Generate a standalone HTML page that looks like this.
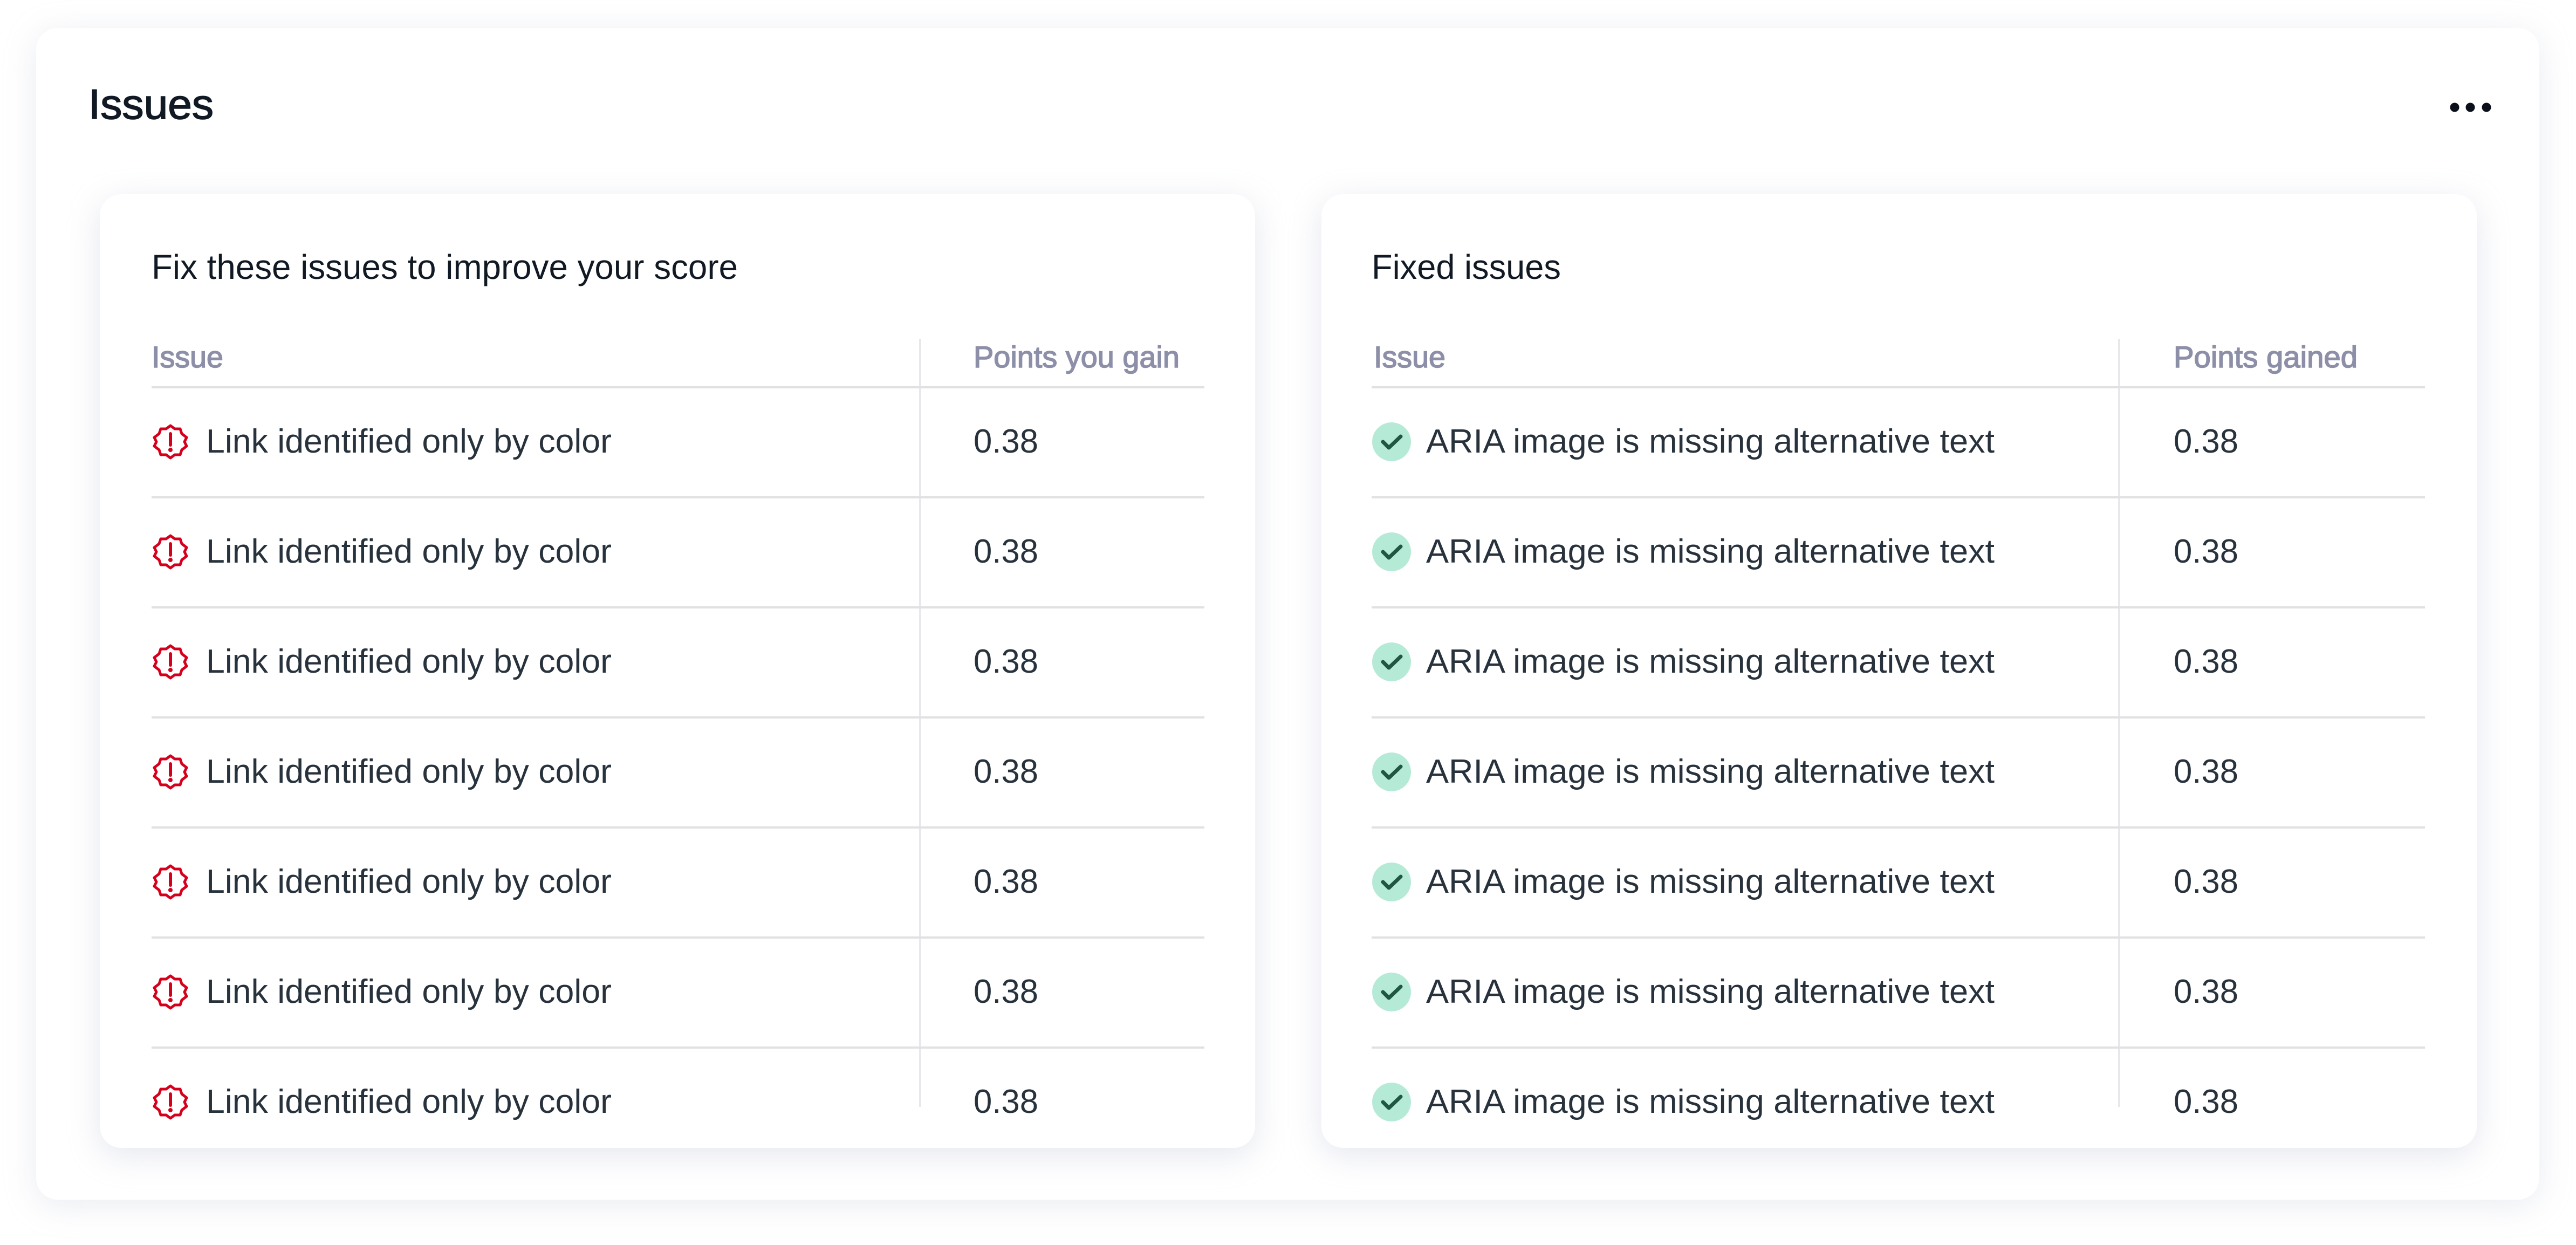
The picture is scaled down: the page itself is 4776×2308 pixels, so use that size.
<!DOCTYPE html>
<html><head><meta charset="utf-8"><style>
html,body{margin:0;padding:0;background:#fff;}
body{width:4776px;height:2308px;position:relative;overflow:hidden;}
.card{position:absolute;background:#fff;}
#outer{left:67px;top:52px;width:4641px;height:2172px;border-radius:40px;box-shadow:0 10px 60px rgba(180,185,205,0.28);}
.inner{top:360px;width:2142px;height:1768px;border-radius:40px;box-shadow:0 14px 60px rgba(170,176,200,0.30);}
svg{position:absolute;left:0;top:0;}
text{font-family:"Liberation Sans",sans-serif;}
.med{stroke-width:1.6px;}
</style></head><body>
<div id="outer" class="card"></div>
<div class="card inner" style="left:185px"></div>
<div class="card inner" style="left:2450px"></div>
<svg width="4776" height="2308" viewBox="0 0 4776 2308">
<defs>
<g id="bad"><path d="M0,-30 L8,-24 L18,-24 L21,-15 L30,-8 L26,0 L30,8 L21,15 L18,24 L8,24 L0,30 L-8,24 L-18,24 L-21,15 L-30,8 L-26,0 L-30,-8 L-21,-15 L-18,-24 L-8,-24 Z" fill="none" stroke="#d6001c" stroke-width="5" stroke-linejoin="round"/><line x1="0" y1="-15" x2="0" y2="6" stroke="#d6001c" stroke-width="6" stroke-linecap="round"/><circle cx="0" cy="15" r="4" fill="#d6001c"/></g>
<g id="ok"><circle r="36" fill="#b5ebd6"/><path d="M-16,0 L-5,11 L17,-10" fill="none" stroke="#1f5742" stroke-width="7" stroke-linecap="round" stroke-linejoin="round"/></g>
</defs>
<text x="164" y="220" font-size="78" fill="#111a24" stroke="#111a24" class="med" textLength="232" lengthAdjust="spacingAndGlyphs">Issues</text>
<circle cx="4551" cy="199" r="8.5" fill="#0a0f1a"/><circle cx="4580" cy="199" r="8.5" fill="#0a0f1a"/><circle cx="4610" cy="199" r="8.5" fill="#0a0f1a"/>

<text x="281" y="517" font-size="64" fill="#111a24" textLength="1087" lengthAdjust="spacingAndGlyphs">Fix these issues to improve your score</text>
<text x="281" y="681" font-size="56" fill="#8d8fa8" stroke="#8d8fa8" class="med" textLength="133" lengthAdjust="spacingAndGlyphs">Issue</text>
<text x="1805" y="681" font-size="56" fill="#8d8fa8" stroke="#8d8fa8" class="med" textLength="382" lengthAdjust="spacingAndGlyphs">Points you gain</text>
<rect x="1704" y="628" width="4" height="1424" fill="#e6e8ec"/>

<text x="2543" y="517" font-size="64" fill="#111a24" textLength="351" lengthAdjust="spacingAndGlyphs">Fixed issues</text>
<text x="2547" y="681" font-size="56" fill="#8d8fa8" stroke="#8d8fa8" class="med" textLength="133" lengthAdjust="spacingAndGlyphs">Issue</text>
<text x="4030" y="681" font-size="56" fill="#8d8fa8" stroke="#8d8fa8" class="med" textLength="341" lengthAdjust="spacingAndGlyphs">Points gained</text>
<rect x="3927" y="628" width="4" height="1424" fill="#e6e8ec"/>

<g id="rows">
<g id="r0">
<rect x="281" y="716" width="1952" height="4" fill="#e1e1e1"/>
<rect x="2543" y="716" width="1953" height="4" fill="#e1e1e1"/>
<use href="#bad" x="316" y="819"/>
<text x="382" y="839" font-size="62" fill="#28323c" textLength="752" lengthAdjust="spacingAndGlyphs">Link identified only by color</text>
<text x="1805" y="839" font-size="62" fill="#28323c" textLength="120" lengthAdjust="spacingAndGlyphs">0.38</text>
<use href="#ok" x="2580" y="819"/>
<text x="2644" y="839" font-size="62" fill="#28323c" textLength="1054" lengthAdjust="spacingAndGlyphs">ARIA image is missing alternative text</text>
<text x="4030" y="839" font-size="62" fill="#28323c" textLength="120" lengthAdjust="spacingAndGlyphs">0.38</text>
</g>
<use href="#r0" y="204"/>
<use href="#r0" y="408"/>
<use href="#r0" y="612"/>
<use href="#r0" y="816"/>
<use href="#r0" y="1020"/>
<use href="#r0" y="1224"/>
</g>
</svg>
</body></html>
